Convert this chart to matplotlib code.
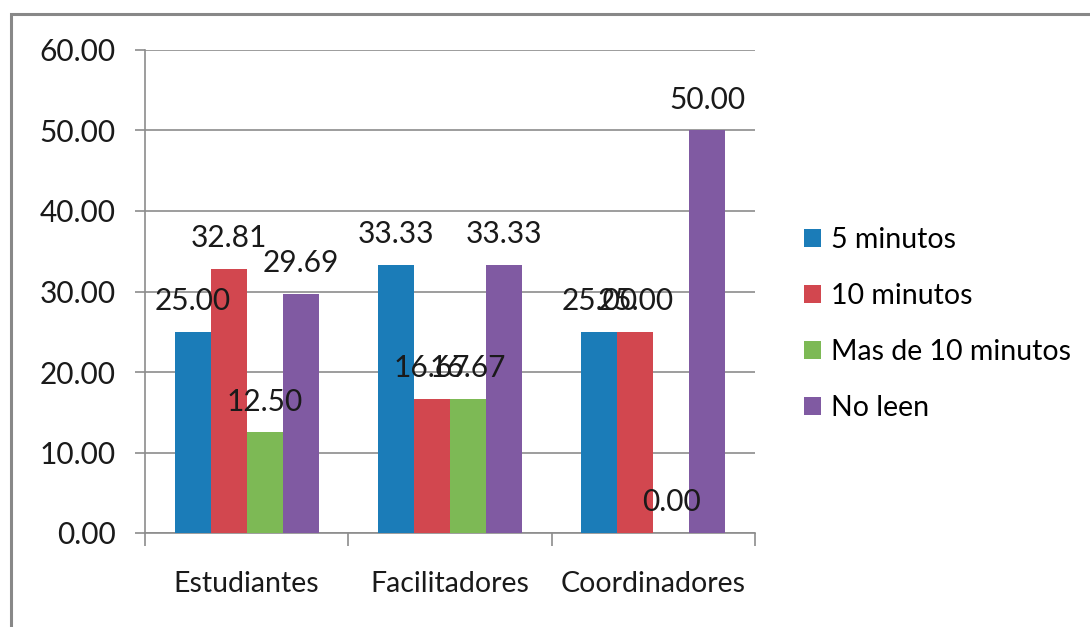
import matplotlib
matplotlib.use("Agg")
import matplotlib.pyplot as plt
import numpy as np
from matplotlib.patches import Rectangle

categories = ["Estudiantes", "Facilitadores", "Coordinadores"]
series_names = ["5 minutos", "10 minutos", "Mas de 10 minutos", "No leen"]
cinco = [25.00, 33.33, 25.00]
diez = [32.81, 16.67, 25.00]
mas_de_diez = [12.50, 16.67, 0.00]
no_leen = [29.69, 33.33, 50.00]
y_ticks = [0, 10, 20, 30, 40, 50, 60]

colors = ["#1b7cb8", "#d2474f", "#7db955", "#805aa2"]

plt.rcParams["font.family"] = ["Lato", "DejaVu Sans"]

fig = plt.figure(figsize=(10.9, 6.27), dpi=100)
fig.patches.append(Rectangle((11 / 1090, -0.1), 1.2, 1 - 14 / 627 + 0.1,
                             transform=fig.transFigure, fill=False,
                             edgecolor="#888888", linewidth=2.2))
ax = fig.add_axes([145 / 1090, 1 - 533 / 627, 610 / 1090, 483 / 627])

x = np.arange(len(categories))
w = 0.177
all_series = [cinco, diez, mas_de_diez, no_leen]
for i, (vals, name, c) in enumerate(zip(all_series, series_names, colors)):
    pos = x + (i - 1.5) * w
    ax.bar(pos, vals, width=w, color=c, label=name, zorder=3)
    for p, v in zip(pos, vals):
        ax.annotate(f"{v:.2f}", (p, v), xytext=(0, 12), textcoords="offset points",
                    ha="center", va="bottom", fontsize=21.5, color="#1a1a1a", zorder=5)

ax.set_xlim(-0.5, 2.5)
ax.set_ylim(0, 60)
ax.set_yticks(y_ticks)
ax.set_yticklabels([f"{t:.2f}" for t in y_ticks], fontsize=21.5, color="#1a1a1a")
ax.yaxis.grid(True, color="#8c8c8c", linewidth=1.2, zorder=0)
ax.tick_params(axis="y", length=7, width=1.2, color="#8c8c8c", pad=14)

ax.set_xticks(x)
ax.set_xticklabels(categories, fontsize=20.5, color="#1a1a1a")
ax.set_xticks([-0.5, 0.5, 1.5, 2.5], minor=True)
ax.tick_params(axis="x", which="major", length=0, pad=27)
ax.tick_params(axis="x", which="minor", length=9, width=1.2, color="#8c8c8c")

for side in ["top", "right"]:
    ax.spines[side].set_visible(False)
for side in ["left", "bottom"]:
    ax.spines[side].set_color("#8c8c8c")
    ax.spines[side].set_linewidth(1.2)

ax.legend(loc="center left", bbox_to_anchor=(1.08, 0.433), frameon=False,
          fontsize=20.5, handlelength=0.6, handleheight=0.6, handletextpad=0.35,
          labelspacing=1.06, borderpad=0, borderaxespad=0)

fig.savefig("out.png", dpi=100)
